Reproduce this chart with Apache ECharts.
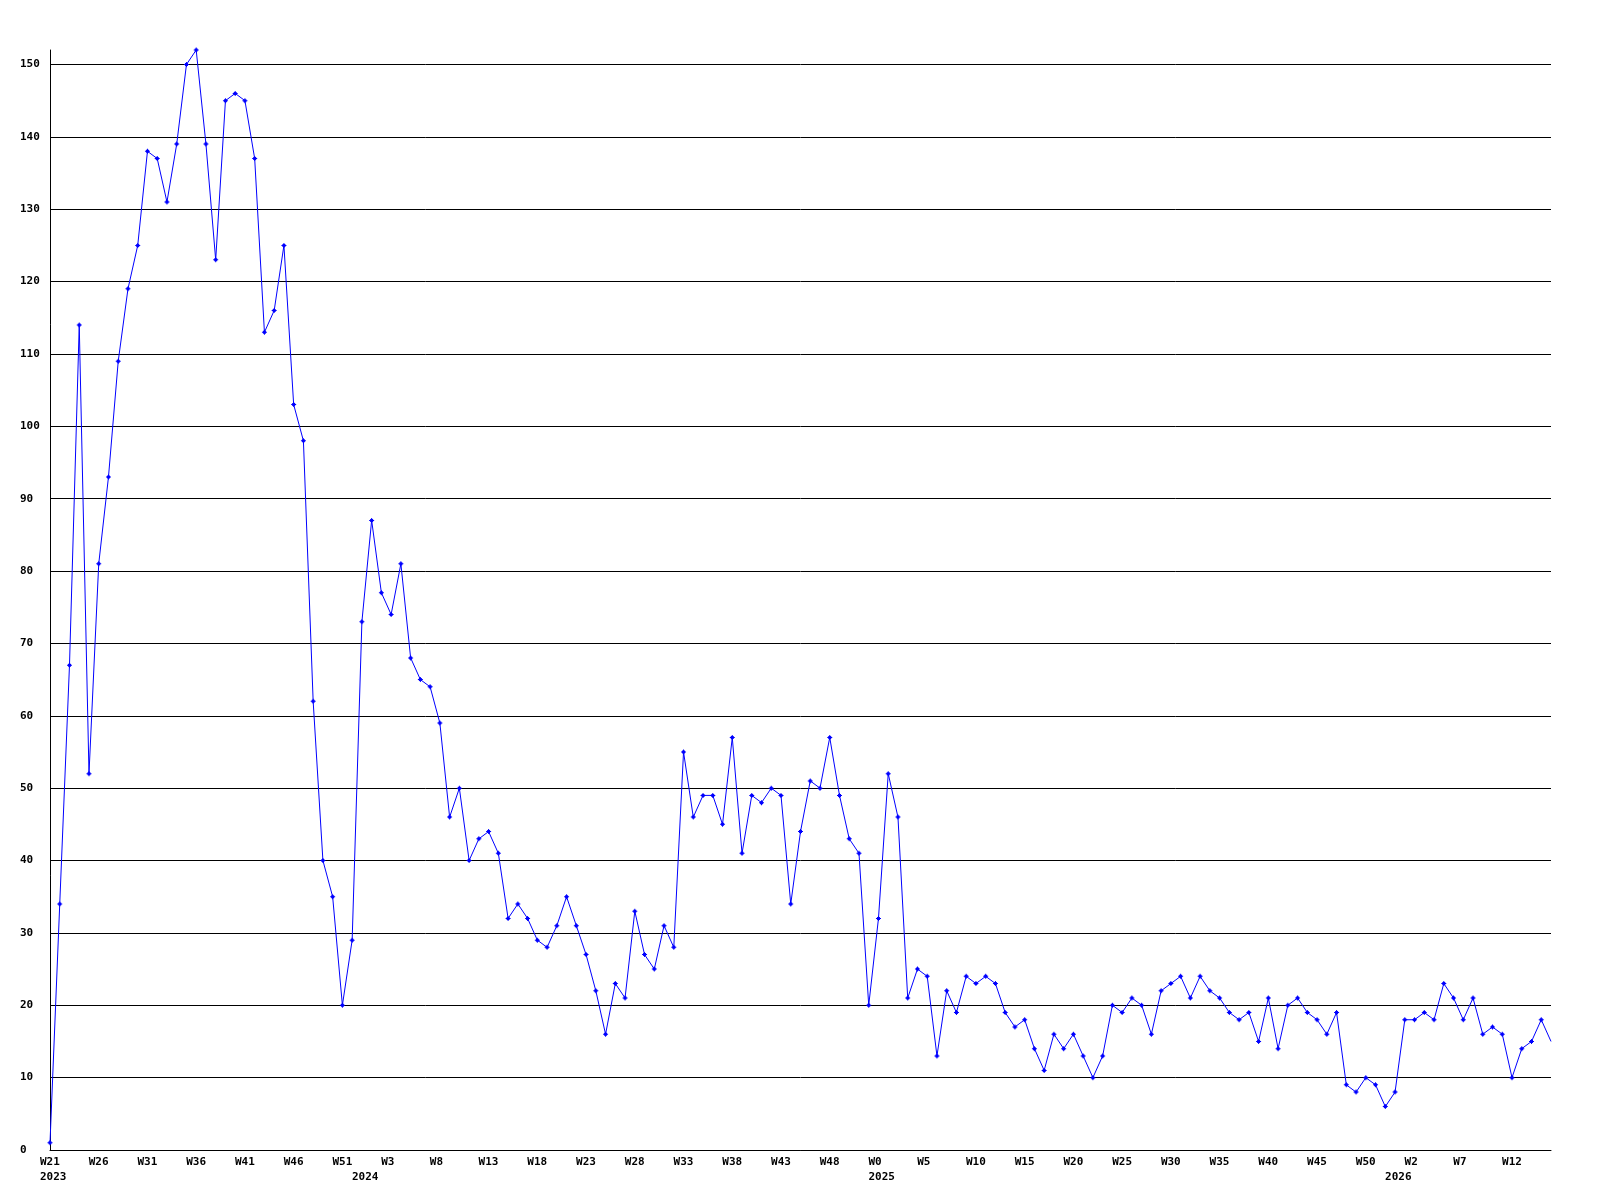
<!DOCTYPE html>
<html>
<head>
<meta charset="utf-8">
<title>weekly count</title>
<script src="https://cdn.jsdelivr.net/npm/echarts@6/dist/echarts.min.js"></script>
<style>
  html, body { margin: 0; padding: 0; background: #fff; }
  #chart { width: 1600px; height: 1200px; }
</style>
</head>
<body>
<div id="chart"></div>
<script>
// weeks per year shown on the axis (first week, last week)
const yearSpans = [
  [2023, 21, 52],
  [2024, 0, 52],
  [2025, 0, 52],
  [2026, 0, 16]
];

// weekly values
const counts2023 = [1, 34, 67, 114, 52, 81, 93, 109, 119, 125, 138, 137, 131, 139, 150, 152,
  139, 123, 145, 146, 145, 137, 113, 116, 125, 103, 98, 62, 40, 35, 20, 29];
const counts2024 = [73, 87, 77, 74, 81, 68, 65, 64, 59, 46, 50, 40, 43, 44, 41, 32, 34, 32, 29, 28,
  31, 35, 31, 27, 22, 16, 23, 21, 33, 27, 25, 31, 28, 55, 46, 49, 49, 45, 57, 41, 49, 48, 50, 49,
  34, 44, 51, 50, 57, 49, 43, 41, 20];
const counts2025 = [32, 52, 46, 21, 25, 24, 13, 22, 19, 24, 23, 24, 23, 19, 17, 18, 14, 11, 16, 14,
  16, 13, 10, 13, 20, 19, 21, 20, 16, 22, 23, 24, 21, 24, 22, 21, 19, 18, 19, 15, 21, 14, 20, 21,
  19, 18, 16, 19, 9, 8, 10, 9, 6];
const counts2026 = [8, 18, 18, 19, 18, 23, 21, 18, 21, 16, 17, 16, 10, 14, 15, 18, 15];

const yTicks = [0, 10, 20, 30, 40, 50, 60, 70, 80, 90, 100, 110, 120, 130, 140, 150];

let weeks = [];
let yearStart = {};
yearSpans.forEach(function (s) {
  yearStart[weeks.length] = String(s[0]);
  for (let w = s[1]; w <= s[2]; w++) {
    weeks.push('W' + w);
  }
});
const counts = counts2023.concat(counts2024, counts2025, counts2026);

let seriesData = counts.map(function (v, i) {
  // last point sits on the right border, its marker is cut off there
  if (i === counts.length - 1) return { value: v, symbol: 'none' };
  return v;
});

const labelFont = {
  fontFamily: 'DejaVu Sans Mono',
  fontWeight: 'bold',
  fontSize: 11,
  color: '#000'
};

let chart = echarts.init(document.getElementById('chart'));
chart.setOption({
  animation: false,
  backgroundColor: '#fff',
  grid: { left: 50, right: 49, top: 50, bottom: 50 },
  xAxis: [
    {
      type: 'category',
      data: weeks,
      boundaryGap: false,
      axisLine: { show: true, lineStyle: { color: '#000', width: 1 } },
      axisTick: { show: false },
      splitLine: { show: false },
      axisLabel: Object.assign({
        interval: function (idx) { return idx % 5 === 0; },
        margin: 7,
        formatter: function (v) { return '{w|' + v + '}'; },
        rich: { w: Object.assign({ width: 20, align: 'left' }, labelFont) }
      }, labelFont)
    },
    {
      type: 'category',
      data: weeks,
      boundaryGap: false,
      position: 'bottom',
      axisLine: { show: false },
      axisTick: { show: false },
      splitLine: { show: false },
      axisLabel: Object.assign({
        interval: function (idx) { return yearStart[idx] !== undefined; },
        margin: 22,
        formatter: function (v, idx) { return '{y|' + yearStart[idx] + '}'; },
        rich: { y: Object.assign({ width: 20, align: 'left' }, labelFont) }
      }, labelFont)
    }
  ],
  yAxis: {
    type: 'value',
    min: yTicks[0],
    max: 152,
    interval: yTicks[1] - yTicks[0],
    axisLine: { show: true, lineStyle: { color: '#000', width: 1 } },
    axisTick: { show: false },
    splitLine: { show: true, showMaxLine: false, lineStyle: { color: '#000', width: 1 } },
    axisLabel: Object.assign({
      align: 'left',
      margin: 30,
      showMaxLabel: false
    }, labelFont)
  },
  series: [
    {
      type: 'line',
      data: seriesData,
      xAxisIndex: 0,
      // small pixel diamond, like the original markers
      symbol: 'path://M2,0h1v1h1v1h1v1h-1v1h-1v1h-1v-1h-1v-1h-1v-1h1v-1h1z',
      symbolSize: 5,
      showAllSymbol: true,
      lineStyle: { color: '#0000ff', width: 1 },
      itemStyle: { color: '#0000ff' },
      emphasis: { disabled: true }
    }
  ]
});
</script>
</body>
</html>
